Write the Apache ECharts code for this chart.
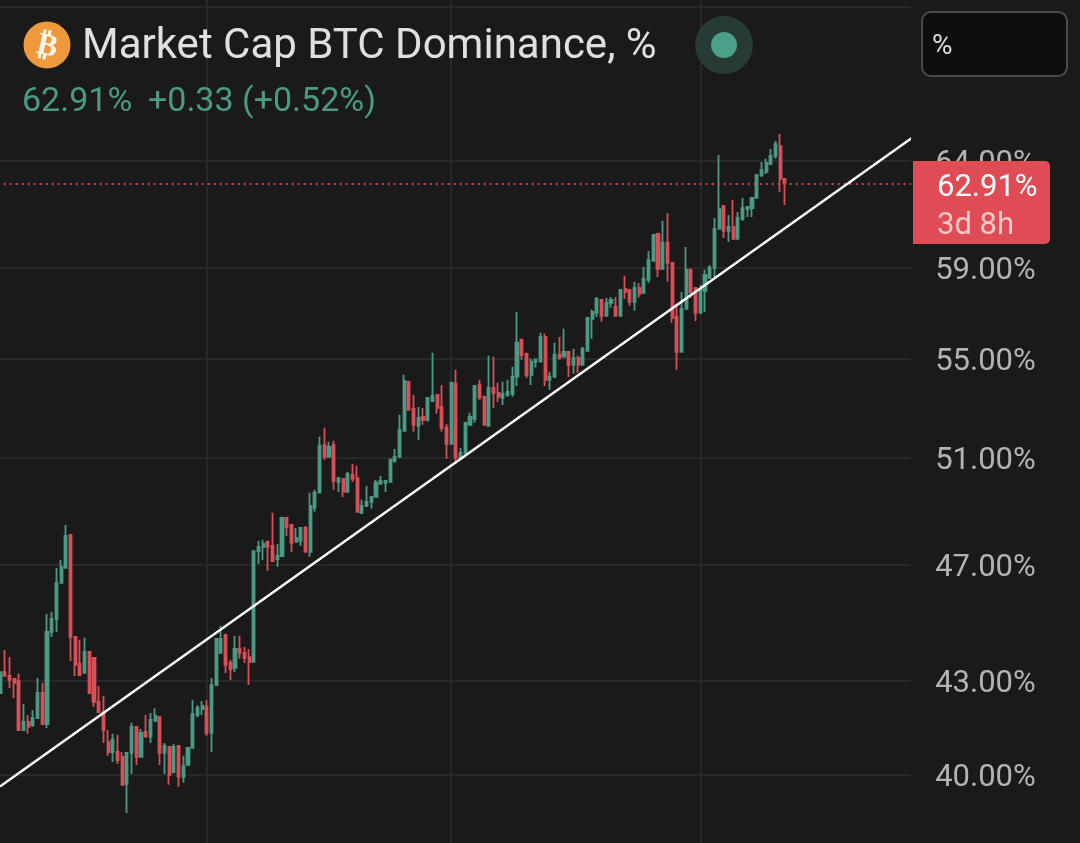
<!DOCTYPE html>
<html><head><meta charset="utf-8">
<style>html,body{margin:0;padding:0;background:#1a1a1a}#c{width:1080px;height:843px}</style>
<script src="https://cdn.jsdelivr.net/npm/echarts@6/dist/echarts.min.js"></script>
</head><body><div id="c"></div>
<script>
const opens = [42.59,43.28,43.15,43.05,42.98,41.40,41.66,41.56,41.78,42.59,
41.59,44.63,45.08,46.34,46.87,48.07,44.46,43.55,43.25,43.95,
43.75,42.30,41.97,41.02,40.71,40.71,40.56,39.73,40.68,41.50,
40.56,41.34,41.19,41.69,41.81,40.68,40.87,40.09,40.90,39.94,
40.31,40.84,41.88,42.07,42.14,41.31,42.85,43.92,44.53,43.58,
43.42,44.05,43.92,43.78,43.62,47.48,47.63,47.82,47.67,47.19,
47.30,48.70,48.44,47.82,47.86,48.33,47.45,49.08,49.65,51.50,
51.03,51.50,50.06,50.18,49.68,50.33,50.21,48.89,49.15,49.30,
49.49,49.99,50.03,50.06,50.88,51.03,52.06,54.05,52.94,52.26,
52.62,52.50,53.26,53.51,53.02,52.18,51.54,53.97,50.95,51.19,
52.30,52.54,53.92,53.43,52.26,53.80,53.59,53.39,53.51,53.55,
54.26,55.81,55.22,54.34,54.89,54.89,55.94,54.13,54.26,55.18,
55.10,55.30,54.76,55.05,54.76,55.35,56.72,56.98,57.55,56.85,
57.42,57.24,56.85,58.03,57.99,57.46,58.08,57.86,58.44,59.29,
60.53,58.93,60.11,59.20,56.80,55.30,57.15,58.89,58.08,56.98,
57.95,58.53,58.98,60.76,61.83,60.67,60.86,60.30,61.23,61.69,
61.74,62.22,63.32,63.47,63.86,64.25,64.74,63.13];
const closes = [43.28,43.15,43.02,42.92,41.40,41.66,41.50,41.78,42.59,41.59,
44.63,45.08,46.34,46.91,48.03,44.46,43.52,43.18,43.95,42.59,
42.30,41.97,41.40,40.71,41.09,40.46,39.70,40.68,41.50,40.56,
41.31,41.19,41.72,41.85,40.68,40.90,40.00,40.87,39.94,40.28,
40.84,41.91,42.10,42.17,41.31,42.85,44.39,44.39,43.52,43.38,
44.05,43.92,43.75,43.62,47.48,47.63,47.74,47.63,47.12,47.30,
48.70,48.37,47.78,47.96,48.33,47.45,49.15,49.65,51.46,51.03,
51.42,50.10,50.21,49.68,50.37,50.18,48.93,49.15,49.30,49.49,
50.03,50.10,50.10,50.92,51.03,52.10,54.09,52.90,52.30,52.58,
52.50,53.39,53.47,52.98,52.18,51.54,54.01,50.99,51.19,52.38,
52.62,53.88,53.39,52.30,53.80,53.59,53.43,53.55,53.63,54.26,
55.69,55.18,54.34,54.89,54.97,55.94,54.13,54.26,55.18,55.05,
55.30,54.76,55.05,54.76,55.43,56.76,57.02,57.59,56.85,57.42,
57.55,56.85,57.99,57.90,57.46,58.08,57.81,58.48,59.33,60.48,
58.93,60.11,59.20,56.76,55.30,57.15,58.89,57.90,56.98,57.99,
58.66,58.98,60.76,61.69,60.67,60.86,60.30,61.27,61.74,61.79,
62.22,63.32,63.56,63.91,64.25,64.84,63.13,62.91];
const lows = [42.59,43.15,42.75,42.43,41.40,41.40,41.28,41.50,41.75,41.56,
41.46,44.46,44.63,46.34,46.87,43.65,43.15,43.15,43.22,42.59,
42.14,41.97,40.99,40.59,40.40,40.34,39.70,38.85,40.03,40.31,
40.56,41.16,40.99,41.69,40.31,40.03,39.70,40.06,39.64,39.76,
40.31,40.84,41.81,41.88,41.22,40.71,42.82,43.92,43.25,43.02,
43.28,43.72,43.58,42.85,43.62,47.02,47.16,46.76,47.12,46.91,
47.27,48.03,47.45,47.78,47.67,47.45,47.27,48.93,49.65,50.92,
51.03,49.76,49.68,49.49,49.65,50.06,48.89,48.85,49.11,49.04,
49.49,49.95,49.68,50.06,50.80,51.03,52.06,52.86,52.02,51.70,
52.30,52.42,53.22,52.74,52.02,50.95,51.54,50.84,50.92,51.15,
52.26,52.38,53.31,52.30,52.26,52.98,53.22,53.10,53.43,53.43,
53.88,54.97,54.21,53.92,54.64,54.85,53.88,53.72,54.21,54.97,
55.05,54.26,54.38,54.43,54.76,55.35,55.86,56.80,56.59,56.85,
57.20,56.85,56.85,57.59,57.29,57.07,57.64,57.86,58.30,59.29,
58.57,58.93,58.35,56.55,54.55,55.30,57.11,57.64,56.63,56.98,
57.02,58.48,58.57,60.72,60.34,60.16,60.30,60.30,61.14,61.32,
61.32,62.22,63.22,63.37,63.81,64.11,62.50,61.88];
const highs = [43.28,44.02,43.78,43.08,43.22,42.23,41.88,42.04,43.08,42.92,
45.25,45.32,46.87,47.16,48.44,48.07,44.46,44.36,44.43,43.98,
43.75,42.82,42.50,41.40,41.28,41.25,40.71,40.68,41.63,41.50,
41.43,41.88,41.94,42.10,41.85,40.99,40.87,40.96,40.93,40.59,
40.87,42.36,42.20,42.33,42.36,43.08,44.39,44.84,44.56,43.68,
44.50,44.50,44.12,44.05,47.48,47.86,47.89,47.82,48.89,47.74,
48.74,48.70,48.48,48.33,48.33,48.40,49.65,49.76,51.82,52.18,
51.62,51.66,50.25,50.18,50.45,50.76,50.68,49.38,49.91,49.53,
50.14,50.29,50.14,50.92,51.34,52.70,54.34,54.05,53.51,53.02,
52.98,53.39,55.26,53.51,53.92,52.34,54.01,54.55,51.38,52.38,
52.78,53.92,54.13,53.47,55.14,55.10,54.01,54.05,54.13,54.68,
57.02,55.86,55.26,55.01,55.01,56.12,56.07,54.47,55.69,55.94,
56.29,55.30,55.43,55.14,55.52,56.76,57.11,57.68,57.59,57.64,
57.68,57.68,58.03,58.62,58.03,58.35,58.30,59.02,59.74,60.53,
60.58,61.14,61.50,59.20,57.24,57.90,59.93,58.89,58.12,58.21,
58.89,59.11,61.27,64.30,61.88,61.41,62.12,61.55,62.22,61.79,
62.26,63.37,63.96,64.11,64.59,64.99,65.34,63.13];
const gridTicks = [40,43,47,51,55,59,64,72];
const labelledTicks = [40,43,47,51,55,59,64];
const yearCandles = [44,96,149];
const trendFrom = [0,39.65];
const trendTo = [194,65.14];
const lastPrice = 62.91;
const slots = 195;

const BG='#1a1a1a', UP='#4a9a85', DOWN='#d94f57', GRID='#282828';
const FONT='Roboto, sans-serif';
const categories = Array.from({length:slots},(_,i)=>'W'+i);
const ohlc = opens.map((o,i)=>[o,closes[i],lows[i],highs[i]]);

const chart = echarts.init(document.getElementById('c'),null,{renderer:'canvas'});
chart.setOption({
  animation:false,
  backgroundColor:BG,
  grid:{left:-2.35,top:0,width:slots*4.7,height:843,containLabel:false,outerBoundsMode:'none'},
  xAxis:{type:'category',data:categories,boundaryGap:true,
    axisLine:{show:false},axisTick:{show:false},axisLabel:{show:false},
    splitLine:{show:true,alignWithLabel:true,interval:(i)=>yearCandles.includes(i),lineStyle:{color:GRID,width:2}}},
  yAxis:{type:'log',position:'right',logBase:10,min:37.97,max:72.4,
    axisLine:{show:false},
    axisTick:{show:false,customValues:gridTicks},
    axisLabel:{show:true,customValues:labelledTicks,inside:false,margin:21,color:'#b3b3b3',fontFamily:FONT,fontSize:31,verticalAlign:'top',lineHeight:7,
      formatter:(v)=>Number(v).toFixed(2)+'%'},
    splitLine:{show:true,lineStyle:{color:GRID,width:2}}},
  series:[
    {type:'candlestick',data:ohlc,barWidth:2.6,clip:false,
      itemStyle:{color:UP,color0:DOWN,borderColor:UP,borderColor0:DOWN,borderColorDoji:UP,borderWidth:1.8},
      markLine:{silent:true,symbol:'none',animation:false,label:{show:false},
        lineStyle:{color:'#bd474e',type:[2,4],width:2},
        data:[{yAxis:lastPrice}]}},
    {type:'line',data:[trendFrom,trendTo],symbol:'none',z:5,clip:false,
      lineStyle:{color:'#ffffff',width:2.4}}
  ],
  graphic:[
    {type:'rect',z:50,shape:{x:911,y:0,width:8,height:843},style:{fill:BG}},
    {type:'circle',z:60,shape:{cx:47,cy:45,r:23.5},style:{fill:'#ee9a3c'}},
    {type:'text',z:61,x:47,y:47,rotation:-0.22,style:{text:'₿',fill:'#fff8ea',font:'bold 31px "DejaVu Sans"',align:'center',verticalAlign:'middle'}},
    {type:'text',z:60,x:82,y:47,style:{text:'Market Cap BTC Dominance, %',fill:'#e0e0e0',font:'42px Roboto',verticalAlign:'middle'}},
    {type:'text',z:60,x:22,y:102,style:{text:'62.91%',fill:'#4a9a85',font:'34px Roboto',verticalAlign:'middle'}},
    {type:'text',z:60,x:148,y:102,style:{text:'+0.33 (+0.52%)',fill:'#4a9a85',font:'34px Roboto',verticalAlign:'middle'}},
    {type:'circle',z:60,shape:{cx:724,cy:45,r:29},style:{fill:'#263a36'}},
    {type:'circle',z:61,shape:{cx:724,cy:45,r:13},style:{fill:'#4aa08a'}},
    {type:'rect',z:60,shape:{x:922,y:12,width:145,height:64,r:9},style:{fill:'#0e0e0e',stroke:'#4a4a4a',lineWidth:2}},
    {type:'text',z:61,x:932,y:47,style:{text:'%',fill:'#dddddd',font:'28px Roboto',verticalAlign:'middle'}},
    {type:'rect',z:60,shape:{x:913,y:161,width:137,height:83,r:[0,5,5,0]},style:{fill:'#e04c55'}},
    {type:'text',z:61,x:937,y:188,style:{text:'62.91%',fill:'#ffffff',font:'31px Roboto',verticalAlign:'middle'}},
    {type:'text',z:61,x:937,y:226,style:{text:'3d 8h',fill:'#fbc9c9',font:'31px Roboto',verticalAlign:'middle'}}
  ]
});
</script></body></html>
